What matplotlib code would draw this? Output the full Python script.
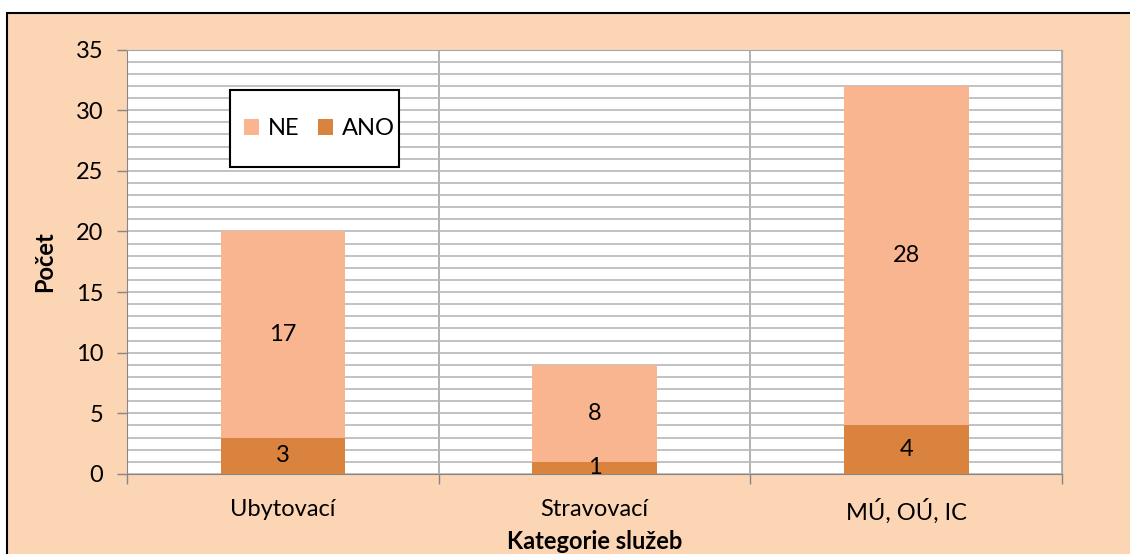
import numpy as np
import matplotlib.pyplot as plt
from matplotlib.patches import Rectangle

plt.rcParams['font.family'] = ['Lato', 'DejaVu Sans']

kategorie = ["Ubytovací", "Stravovací", "MÚ, OÚ, IC"]
ano = [3, 1, 4]
ne = [17, 8, 28]

c_ne = "#F9B590"
c_ano = "#DA833F"
c_bg = "#FCD5B5"
fs = 17

fig = plt.figure(figsize=(11.3, 5.54), dpi=100, facecolor="white")
fig.patches.append(Rectangle((7/1130, -0.1), 1.1, 1.1 - 13/554, transform=fig.transFigure,
                             facecolor=c_bg, edgecolor="black", linewidth=1.5, zorder=-10))
ax = fig.add_axes([127/1130, 1 - 474/554, 935/1130, 424.5/554])
ax.set_facecolor("white")

x = np.arange(len(kategorie))
b1 = ax.bar(x, ano, width=0.4, color=c_ano, label="ANO", zorder=3)
b2 = ax.bar(x, ne, width=0.4, bottom=ano, color=c_ne, label="NE", zorder=3)

# popisky hodnot
for xi, a, n in zip(x, ano, ne):
    ax.text(xi, a / 2, str(a), ha="center", va="center", fontsize=fs, zorder=4)
    ax.text(xi, a + n / 2, str(n), ha="center", va="center", fontsize=fs, zorder=4)

ax.set_xlim(-0.5, 2.5)
ax.set_ylim(0, 35)
ax.set_yticks(np.arange(0, 36, 5))
ax.set_yticks(np.arange(0, 36, 1), minor=True)
ax.set_xticks([-0.5, 0.5, 1.5, 2.5])
ax.set_xticklabels([])
ax.set_xticks(x, minor=True)
ax.set_xticklabels(kategorie, minor=True)

ax.tick_params(axis="y", which="major", length=7, width=1, color="#868686",
               labelsize=fs, pad=10)
ax.tick_params(axis="y", which="minor", length=0)
ax.tick_params(axis="x", which="major", length=7, width=1, color="#868686")
ax.tick_params(axis="x", which="minor", length=0, labelsize=fs, pad=18)

ax.grid(axis="y", which="both", color="#B8B8B8", linewidth=1.2, zorder=0)
ax.grid(axis="x", which="major", color="#A6A6A6", linewidth=1.2, zorder=0)
ax.set_axisbelow(True)

for s in ax.spines.values():
    s.set_color("#A6A6A6")
ax.spines["left"].set_color("#868686")
ax.spines["bottom"].set_color("#868686")

ax.set_ylabel("Počet", fontsize=fs, fontweight="bold", labelpad=14)
ax.set_xlabel("Kategorie služeb", fontsize=fs, fontweight="bold", labelpad=4)

# rámeček legendy
ax.add_patch(Rectangle((0.1102, 0.7232), 0.1807, 0.1814, transform=ax.transAxes,
                       facecolor="white", edgecolor="black", linewidth=1.5,
                       zorder=5, clip_on=False))
leg = ax.legend(handles=[b2, b1], labels=["NE", "ANO"], ncol=2, loc="center",
                bbox_to_anchor=(0.2055, 0.814), fontsize=fs, frameon=False,
                handlelength=0.65, handleheight=0.65, handletextpad=0.35,
                columnspacing=0.8, borderpad=0, borderaxespad=0)
leg.set_zorder(6)

fig.savefig("out.png", dpi=100, facecolor=fig.get_facecolor())
